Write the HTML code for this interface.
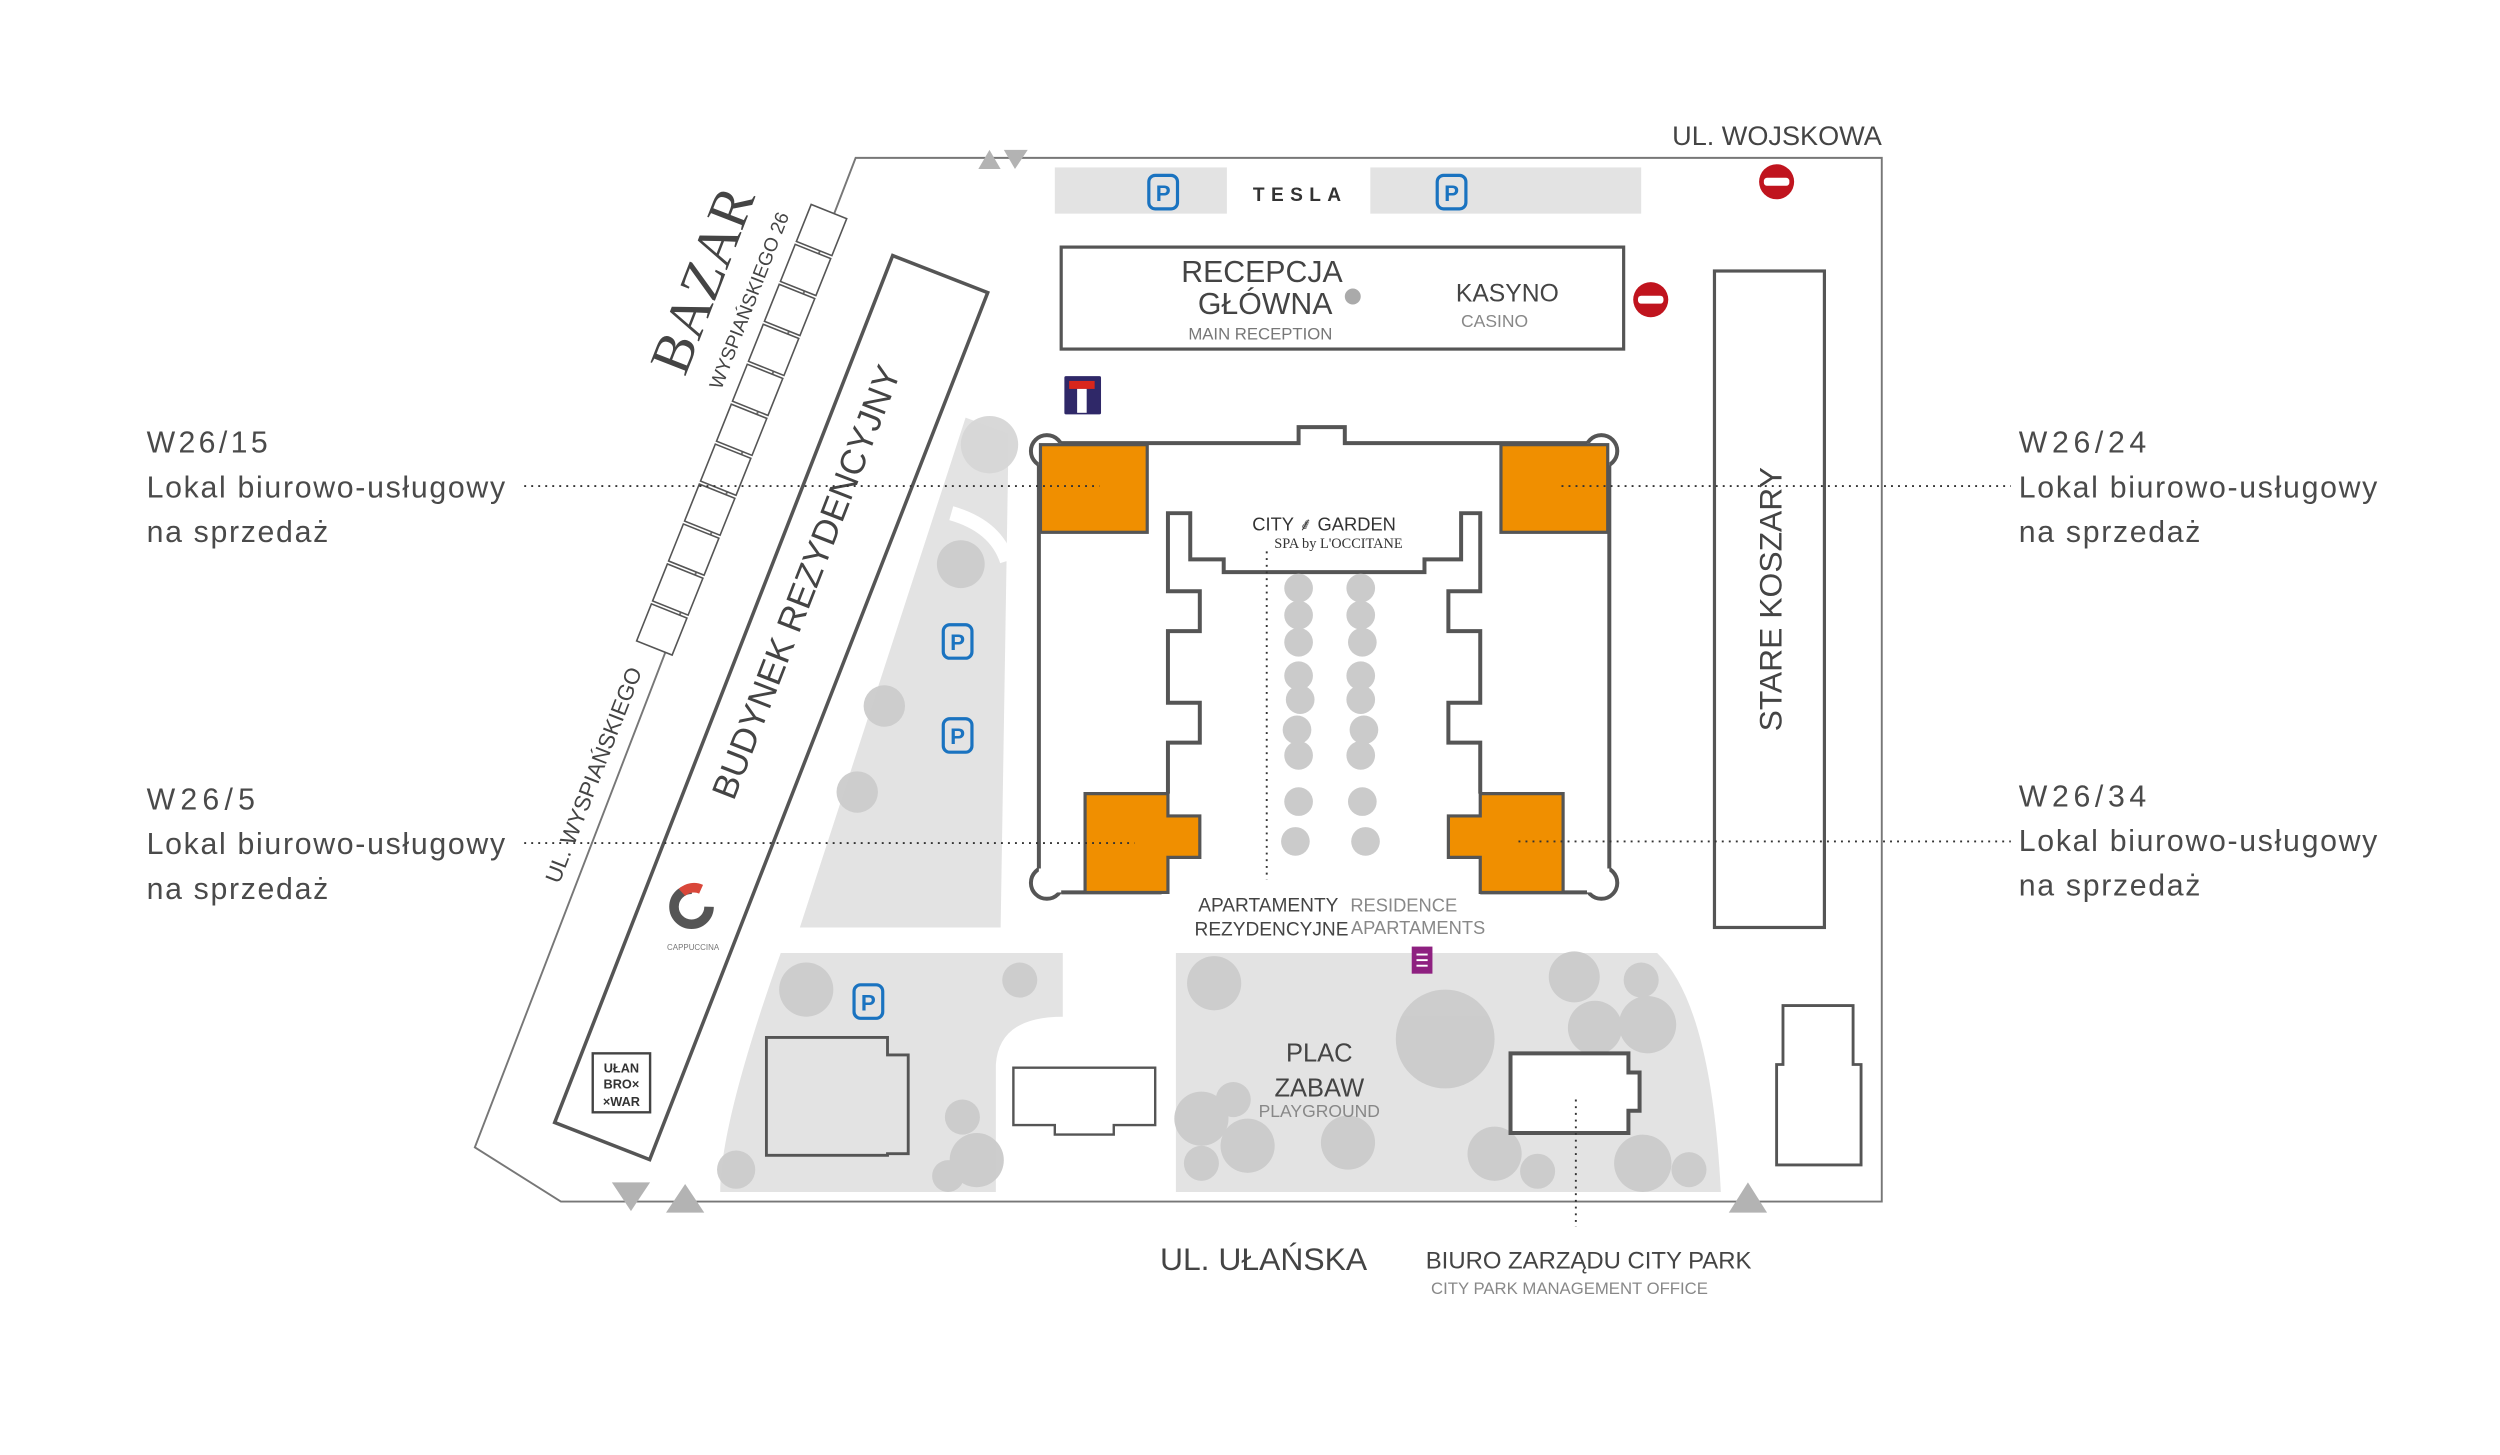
<!DOCTYPE html>
<html><head><meta charset="utf-8"><style>
html,body{margin:0;padding:0;background:#fff;}
svg{display:block;}
text{font-family:"Liberation Sans Narrow","Liberation Sans",sans-serif;fill:#444;}
.s{font-family:"Liberation Sans",sans-serif;fill:#4a4a4a;}
</style></head><body>
<svg width="2500" height="1455" viewBox="0 0 1569 913" xmlns="http://www.w3.org/2000/svg">
<rect width="1569" height="913" fill="#fff"/>
<path d="M537,99 L1181,99 L1181,754 L352,754 L298,720 Z" fill="none" stroke="#777" stroke-width="1.2"/>

<path d="M606,262 L633,272 L628,582 L502,582 Z" fill="#e3e3e3"/>
<path d="M597,322 Q625,330 632,352" fill="none" stroke="#fff" stroke-width="9"/>
<path d="M490,598 L667,598 L667,638 Q627,638 625,668 L625,748 L452,748 Q452,705 490,598 Z" fill="#e3e3e3"/>
<path d="M738,598 L1040,598 Q1074,630 1080,748 L738,748 Z" fill="#e3e3e3"/>

<g fill="#cbcbcb" opacity="0.95">
<circle cx="621" cy="279" r="18" fill="#d6d6d6"/><circle cx="603" cy="354" r="15"/><circle cx="555" cy="443" r="13"/><circle cx="538" cy="497" r="13"/>
<circle cx="506" cy="621" r="17"/><circle cx="640" cy="615" r="11"/><circle cx="604" cy="701" r="11"/><circle cx="613" cy="728" r="17"/><circle cx="595" cy="738" r="10"/><circle cx="462" cy="734" r="12"/>
<circle cx="762" cy="617" r="17"/><circle cx="907" cy="652" r="31"/><circle cx="988" cy="613" r="16"/><circle cx="1030" cy="615" r="11"/><circle cx="1034" cy="643" r="18"/><circle cx="1001" cy="645" r="17"/>
<circle cx="754" cy="702" r="17"/><circle cx="774" cy="690" r="11"/><circle cx="783" cy="719" r="17"/><circle cx="754" cy="730" r="11"/><circle cx="846" cy="717" r="17"/>
<circle cx="938" cy="724" r="17"/><circle cx="965" cy="735" r="11"/><circle cx="1031" cy="730" r="18"/><circle cx="1060" cy="734" r="11"/>
</g>

<rect x="662" y="105" width="108" height="29" fill="#e3e3e3"/>
<rect x="860" y="105" width="170" height="29" fill="#e3e3e3"/>
<g fill="none" stroke="#1a73c0" stroke-width="2">
<rect x="721" y="110" width="18" height="21" rx="4"/><rect x="902" y="110" width="18" height="21" rx="4"/>
<rect x="592" y="392" width="18" height="21" rx="4"/><rect x="592" y="451" width="18" height="21" rx="4"/><rect x="536" y="618" width="18" height="21" rx="4"/>
</g>
<g font-size="14" font-weight="bold" text-anchor="middle">
<text x="730" y="126" class="s" style="fill:#1a73c0">P</text><text x="911" y="126" class="s" style="fill:#1a73c0">P</text>
<text x="601" y="408" class="s" style="fill:#1a73c0">P</text><text x="601" y="467" class="s" style="fill:#1a73c0">P</text><text x="545" y="634" class="s" style="fill:#1a73c0">P</text>
</g>
<text x="816" y="126" font-size="12" text-anchor="middle" letter-spacing="4" class="s" style="fill:#333;font-weight:bold">TESLA</text>

<rect x="666" y="155" width="353" height="64" fill="#fff" stroke="#555" stroke-width="2"/>
<text x="792" y="177" font-size="19" text-anchor="middle">RECEPCJA</text>
<text x="794" y="197" font-size="19" text-anchor="middle">GŁÓWNA</text>
<text x="791" y="213" font-size="10.5" text-anchor="middle" style="fill:#777">MAIN RECEPTION</text>
<circle cx="849" cy="186" r="5" fill="#aaa"/>
<text x="946" y="189" font-size="15.5" text-anchor="middle">KASYNO</text>
<text x="938" y="205" font-size="11" text-anchor="middle" style="fill:#888">CASINO</text>
<circle cx="1036" cy="188" r="11" fill="#c0141e"/><rect x="1028" y="185.5" width="16" height="5" rx="2" fill="#fff"/>
<circle cx="1115" cy="114" r="11" fill="#c0141e"/><rect x="1107" y="111.5" width="16" height="5" rx="2" fill="#fff"/>
<text x="1181" y="91" font-size="17" text-anchor="end">UL. WOJSKOWA</text>
<rect x="668" y="236" width="23" height="24" fill="#2f2868" rx="1"/><rect x="671" y="239" width="16" height="5" fill="#d9261c"/><rect x="676" y="244" width="6" height="15" fill="#fff"/>

<rect x="1076" y="170" width="69" height="412" fill="#fff" stroke="#555" stroke-width="2"/>
<text transform="translate(1118,376) rotate(-90)" font-size="20" text-anchor="middle">STARE KOSZARY</text>

<!-- main building -->
<g fill="#fff" stroke="#555" stroke-width="2.5">
<circle cx="657" cy="283" r="10"/><circle cx="1005" cy="283" r="10"/><circle cx="657" cy="554" r="10"/><circle cx="1005" cy="554" r="10"/>
</g>
<rect x="652" y="278" width="358" height="282" fill="#fff"/>
<rect x="815" y="268" width="29" height="12" fill="#fff"/>
<path d="M652,292 L652,545 M1010,292 L1010,545 M666,278 L815,278 L815,268 L844,268 L844,278 L996,278 M729,560 L666,560 M929,560 L996,560" fill="none" stroke="#555" stroke-width="2.5"/>
<path d="M733,498 L733,466 L753,466 L753,441 L733,441 L733,396 L753,396 L753,371 L733,371 L733,322 L747,322 L747,351 L768,351 L768,359 L894,359 L894,351 L917,351 L917,322 L929,322 L929,371 L909,371 L909,396 L929,396 L929,441 L909,441 L909,466 L929,466 L929,498" fill="#fff" stroke="#555" stroke-width="2.5"/>
<g fill="#cbcbcb">
<circle cx="815" cy="369" r="9"/><circle cx="854" cy="369" r="9"/>
<circle cx="815" cy="386" r="9"/><circle cx="854" cy="386" r="9"/>
<circle cx="815" cy="403" r="9"/><circle cx="855" cy="403" r="9"/>
<circle cx="815" cy="424" r="9"/><circle cx="854" cy="424" r="9"/>
<circle cx="816" cy="439" r="9"/><circle cx="854" cy="439" r="9"/>
<circle cx="814" cy="458" r="9"/><circle cx="856" cy="458" r="9"/>
<circle cx="815" cy="474" r="9"/><circle cx="854" cy="474" r="9"/>
<circle cx="815" cy="503" r="9"/><circle cx="855" cy="503" r="9"/>
<circle cx="813" cy="528" r="9"/><circle cx="857" cy="528" r="9"/>
</g>
<g fill="#f08f00" stroke="#555" stroke-width="2">
<rect x="653" y="279" width="67" height="55"/>
<rect x="942" y="279" width="67" height="55"/>
<path d="M681,498 L733,498 L733,512 L753,512 L753,538 L733,538 L733,560 L681,560 Z"/>
<path d="M929,498 L981,498 L981,560 L929,560 L929,538 L909,538 L909,512 L929,512 Z"/>
</g>
<text x="831" y="333" font-size="11.5" text-anchor="middle" class="s" style="fill:#333">CITY ⸙ GARDEN</text>
<text x="840" y="344" font-size="9" text-anchor="middle" style="fill:#333;font-family:'Liberation Serif',serif">SPA by L'OCCITANE</text>
<line x1="795" y1="346" x2="795" y2="552" stroke="#333" stroke-width="1.2" stroke-dasharray="1.2,3"/>
<text x="796" y="572" font-size="12" text-anchor="middle">APARTAMENTY</text>
<text x="798" y="587" font-size="12" text-anchor="middle">REZYDENCYJNE</text>
<text x="881" y="572" font-size="11.5" text-anchor="middle" style="fill:#888">RESIDENCE</text>
<text x="890" y="586" font-size="11.5" text-anchor="middle" style="fill:#888">APARTAMENTS</text>
<rect x="886" y="594" width="13" height="17" fill="#8e2080"/>
<g stroke="#fff" stroke-width="1.2"><line x1="889" y1="599" x2="896" y2="599"/><line x1="889" y1="602.5" x2="896" y2="602.5"/><line x1="889" y1="606" x2="896" y2="606"/></g>

<g transform="translate(484,444) rotate(21.3)">
<rect x="-32" y="-292" width="64" height="584" fill="#fff" stroke="#555" stroke-width="2.2"/>
</g>
<text transform="translate(513,368) rotate(-68.7)" font-size="22" text-anchor="middle">BUDYNEK REZYDENCYJNY</text>
<g transform="translate(515.6,144.3) rotate(21.8)" fill="#fff" stroke="#555" stroke-width="1">
<rect x="-12" y="-12.5" width="24" height="25"/><rect x="-12" y="14.5" width="24" height="25"/><rect x="-12" y="41.5" width="24" height="25"/><rect x="-12" y="68.5" width="24" height="25"/><rect x="-12" y="95.5" width="24" height="25"/><rect x="-12" y="122.5" width="24" height="25"/><rect x="-12" y="149.5" width="24" height="25"/><rect x="-12" y="176.5" width="24" height="25"/><rect x="-12" y="203.5" width="24" height="25"/><rect x="-12" y="230.5" width="24" height="25"/><rect x="-12" y="257.5" width="24" height="25"/>
</g>
<text transform="translate(452,180) rotate(-68.7)" font-size="36" text-anchor="middle" style="fill:#444;font-family:'Liberation Serif',serif">BAZAR</text>
<text transform="translate(474,190) rotate(-68.7)" font-size="12" text-anchor="middle" style="fill:#444">WYSPIAŃSKIEGO 26</text>
<text transform="translate(377,488) rotate(-68.7)" font-size="14" text-anchor="middle">UL. WYSPIAŃSKIEGO</text>
<circle cx="434" cy="569" r="11" fill="none" stroke="#555" stroke-width="6" stroke-dasharray="52,17"/>
<path d="M428,560 A11,11 0 0 1 440,558" fill="none" stroke="#d9473a" stroke-width="6"/>
<text x="435" y="596" font-size="5" text-anchor="middle" class="s" style="fill:#777">CAPPUCCINA</text>
<rect x="372" y="661" width="36" height="37" fill="#fff" stroke="#444" stroke-width="1.5"/>
<g font-size="8" font-weight="bold" text-anchor="middle">
<text x="390" y="673" class="s" style="fill:#333">UŁAN</text><text x="390" y="683" class="s" style="fill:#333">BRO×</text><text x="390" y="694" class="s" style="fill:#333">×WAR</text></g>

<path d="M481,651 L557,651 L557,662 L570,662 L570,724 L557,724 L557,725 L481,725 Z" fill="#e3e3e3" stroke="#555" stroke-width="1.8"/>
<path d="M636,670 L725,670 L725,706 L699,706 L699,712 L662,712 L662,706 L636,706 Z" fill="#fff" stroke="#555" stroke-width="1.5"/>
<path d="M948,661 L1022,661 L1022,673 L1029,673 L1029,697 L1022,697 L1022,711 L948,711 Z" fill="#fff" stroke="#555" stroke-width="2.5"/>
<path d="M1119,631 L1163,631 L1163,668 L1168,668 L1168,731 L1115,731 L1115,668 L1119,668 Z" fill="#fff" stroke="#555" stroke-width="1.8"/>
<line x1="989" y1="690" x2="989" y2="770" stroke="#333" stroke-width="1.2" stroke-dasharray="1.2,3"/>
<text x="828" y="666" font-size="16" text-anchor="middle">PLAC</text>
<text x="828" y="688" font-size="16" text-anchor="middle">ZABAW</text>
<text x="828" y="701" font-size="11" text-anchor="middle" style="fill:#888">PLAYGROUND</text>

<g fill="#b3b3b3">
<path d="M614,106 L628,106 L621,94 Z"/><path d="M630,94 L645,94 L637,106 Z"/>
<path d="M384,742 L408,742 L396,760 Z"/><path d="M418,761 L442,761 L430,743 Z"/><path d="M1085,761 L1109,761 L1097,742 Z"/>
</g>
<text x="793" y="797" font-size="20" text-anchor="middle">UL. UŁAŃSKA</text>
<text x="997" y="796" font-size="15" text-anchor="middle">BIURO ZARZĄDU CITY PARK</text>
<text x="985" y="812" font-size="10.5" text-anchor="middle" style="fill:#888">CITY PARK MANAGEMENT OFFICE</text>

<g stroke="#333" stroke-width="1.2" stroke-dasharray="1.2,3.2">
<line x1="329" y1="305" x2="690" y2="305"/><line x1="329" y1="529" x2="712" y2="529"/>
<line x1="980" y1="305" x2="1262" y2="305"/><line x1="953" y1="528" x2="1262" y2="528"/>
</g>
<g font-size="19">
<text x="92" y="284" class="s" textLength="76">W26/15</text><text x="92" y="312" class="s" textLength="225" lengthAdjust="spacing">Lokal biurowo-usługowy</text><text x="92" y="340" class="s" textLength="114">na sprzedaż</text>
<text x="92" y="508" class="s" textLength="68">W26/5</text><text x="92" y="536" class="s" textLength="225" lengthAdjust="spacing">Lokal biurowo-usługowy</text><text x="92" y="564" class="s" textLength="114">na sprzedaż</text>
<text x="1267" y="284" class="s" textLength="80">W26/24</text><text x="1267" y="312" class="s" textLength="225" lengthAdjust="spacing">Lokal biurowo-usługowy</text><text x="1267" y="340" class="s" textLength="114">na sprzedaż</text>
<text x="1267" y="506" class="s" textLength="80">W26/34</text><text x="1267" y="534" class="s" textLength="225" lengthAdjust="spacing">Lokal biurowo-usługowy</text><text x="1267" y="562" class="s" textLength="114">na sprzedaż</text>
</g>
</svg>
</body></html>
